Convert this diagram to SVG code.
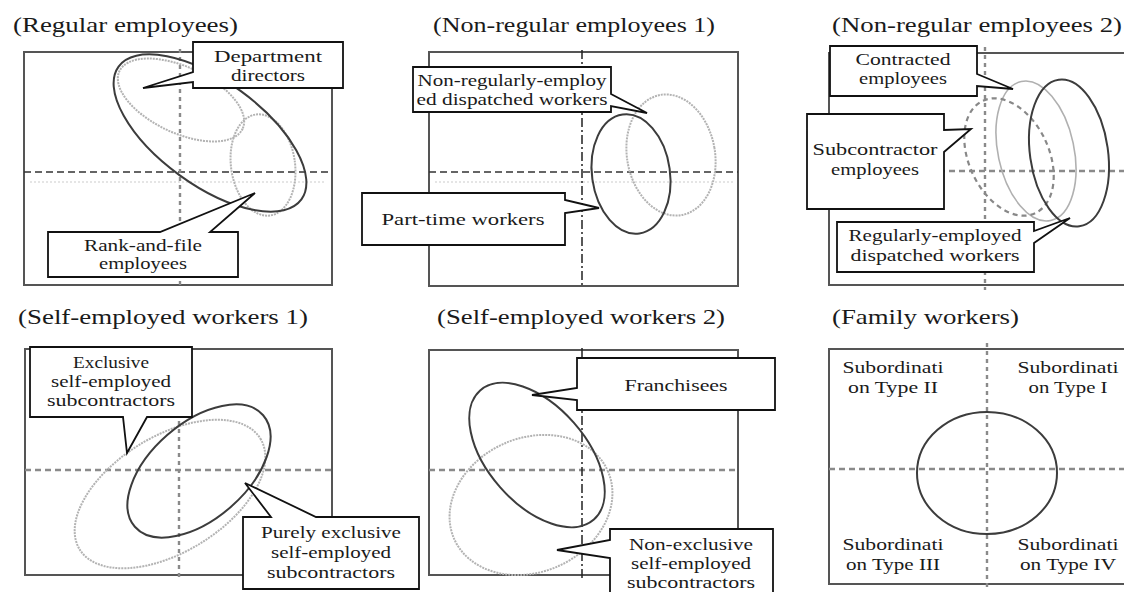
<svg xmlns="http://www.w3.org/2000/svg" width="1124" height="592" viewBox="0 0 1124 592" font-family="'Liberation Serif', 'DejaVu Serif', serif">
<style>
text{font-family:'Liberation Serif','DejaVu Serif',serif;fill:#1a1a1a}
.title{font-size:21px}
.lbl{font-size:17px;text-anchor:middle}
.frame{fill:none;stroke:#555;stroke-width:2}
.hdash{fill:none;stroke:#333;stroke-width:1.6;stroke-dasharray:7 4}
.gdash{fill:none;stroke:#8a8a8a;stroke-width:2.4;stroke-dasharray:6 4}
.vgdash{fill:none;stroke:#8a8a8a;stroke-width:2.4;stroke-dasharray:4 4}
.dashdot{fill:none;stroke:#222;stroke-width:1.5;stroke-dasharray:9 3 2 3}
.faint{fill:none;stroke:#ddd;stroke-width:1.5;stroke-dasharray:2 2}
.dark{fill:none;stroke:#3c3c3c;stroke-width:2}
.light{fill:none;stroke:#b3b3b3;stroke-width:2;stroke-dasharray:2 1}
.thin{fill:none;stroke:#b0b0b0;stroke-width:1.6}
.dashe{fill:none;stroke:#888;stroke-width:2.2;stroke-dasharray:5 4}
.call{fill:#fff;stroke:#111;stroke-width:1.8;stroke-linejoin:miter}
</style>

<!-- Panel 1: Regular employees -->
<g id="panel-regular">
  <text class="title" x="13" y="32" textLength="225" lengthAdjust="spacingAndGlyphs">(Regular employees)</text>
  <rect class="frame" x="24" y="52" width="308" height="233"/>
  <line class="faint" x1="30" y1="182" x2="325" y2="182"/>
  <line class="hdash" x1="24" y1="172" x2="332" y2="172"/>
  <line class="vgdash" x1="180" y1="49" x2="180" y2="289"/>
  <ellipse class="light" cx="181" cy="100" rx="68" ry="33" transform="rotate(25 181 100)"/>
  <ellipse class="light" cx="263" cy="165" rx="32" ry="51" transform="rotate(-8 263 165)"/>
  <ellipse class="dark" cx="210" cy="133" rx="113" ry="52" transform="rotate(36 210 133)"/>
</g>
<g id="callout-department-directors">
  <path class="call" d="M193,42 H343 V88 H193 V82 L143,88 L193,72 Z"/>
  <text class="lbl" x="268" y="62" textLength="108" lengthAdjust="spacingAndGlyphs">Department</text>
  <text class="lbl" x="268" y="81" textLength="74" lengthAdjust="spacingAndGlyphs">directors</text>
</g>
<g id="callout-rank-and-file">
  <path class="call" d="M48,232 H160 L255,193 L210,232 H238 V277 H48 Z"/>
  <text class="lbl" x="143" y="251" textLength="118" lengthAdjust="spacingAndGlyphs">Rank-and-file</text>
  <text class="lbl" x="143" y="269" textLength="88" lengthAdjust="spacingAndGlyphs">employees</text>
</g>

<!-- Panel 2: Non-regular employees 1 -->
<g id="panel-nonregular-1">
  <text class="title" x="433" y="32" textLength="282" lengthAdjust="spacingAndGlyphs">(Non-regular employees 1)</text>
  <rect class="frame" x="429" y="52" width="309" height="234"/>
  <line class="faint" x1="435" y1="182" x2="735" y2="182"/>
  <line class="hdash" x1="429" y1="172" x2="738" y2="172"/>
  <line class="dashdot" x1="582" y1="50" x2="582" y2="288"/>
  <ellipse class="light" cx="671" cy="155" rx="44" ry="61" transform="rotate(-10 671 155)"/>
  <ellipse class="dark" cx="631" cy="174" rx="39" ry="60" transform="rotate(-8 631 174)"/>
</g>
<g id="callout-nonregular-dispatched">
  <path class="call" d="M413,67 H611 V94 L647,113 L611,106 V112 H413 Z"/>
  <text class="lbl" x="512" y="86" textLength="189" lengthAdjust="spacingAndGlyphs">Non-regularly-employ</text>
  <text class="lbl" x="512" y="105" textLength="191" lengthAdjust="spacingAndGlyphs">ed dispatched workers</text>
</g>
<g id="callout-part-time">
  <path class="call" d="M362,193 H565 V200 L599,208 L565,213 V245 H362 Z"/>
  <text class="lbl" x="463" y="225" textLength="163" lengthAdjust="spacingAndGlyphs">Part-time workers</text>
</g>

<!-- Panel 3: Non-regular employees 2 -->
<g id="panel-nonregular-2">
  <text class="title" x="832" y="32" textLength="290" lengthAdjust="spacingAndGlyphs">(Non-regular employees 2)</text>
  <rect class="frame" x="829" y="53" width="310" height="232"/>
  <line class="gdash" x1="829" y1="171" x2="1124" y2="171"/>
  <line class="vgdash" x1="985" y1="47" x2="985" y2="290"/>
  <ellipse class="thin" cx="1036" cy="151" rx="38" ry="71" transform="rotate(-12 1036 151)"/>
  <ellipse class="dashe" cx="1009" cy="157" rx="40" ry="62" transform="rotate(-25 1009 157)"/>
  <ellipse class="dark" cx="1069" cy="153" rx="39" ry="74" transform="rotate(-8 1069 153)"/>
</g>
<g id="callout-contracted">
  <path class="call" d="M830,46 H977 V74 L1013,89 L977,86 V96 H830 Z"/>
  <text class="lbl" x="903" y="65" textLength="95" lengthAdjust="spacingAndGlyphs">Contracted</text>
  <text class="lbl" x="903" y="84" textLength="88" lengthAdjust="spacingAndGlyphs">employees</text>
</g>
<g id="callout-subcontractor">
  <path class="call" d="M807,114 H944 V130 L971,129 L944,152 V209 H807 Z"/>
  <text class="lbl" x="875" y="155" textLength="125" lengthAdjust="spacingAndGlyphs">Subcontractor</text>
  <text class="lbl" x="875" y="175" textLength="88" lengthAdjust="spacingAndGlyphs">employees</text>
</g>
<g id="callout-regular-dispatched">
  <path class="call" d="M837,222 H1034 V231 L1070,218 L1034,243 V272 H837 Z"/>
  <text class="lbl" x="935" y="241" textLength="173" lengthAdjust="spacingAndGlyphs">Regularly-employed</text>
  <text class="lbl" x="935" y="261" textLength="169" lengthAdjust="spacingAndGlyphs">dispatched workers</text>
</g>

<!-- Panel 4: Self-employed workers 1 -->
<g id="panel-self-1">
  <text class="title" x="18" y="324" textLength="290" lengthAdjust="spacingAndGlyphs">(Self-employed workers 1)</text>
  <rect class="frame" x="25" y="349" width="307" height="226"/>
  <line class="gdash" x1="25" y1="470" x2="332" y2="470"/>
  <line class="vgdash" x1="179" y1="349" x2="179" y2="578"/>
  <ellipse class="light" cx="170" cy="494" rx="106" ry="58" transform="rotate(-31.5 170 494)"/>
  <ellipse class="dark" cx="199" cy="471" rx="85" ry="48" transform="rotate(-41 199 471)"/>
</g>
<g id="callout-exclusive">
  <path class="call" d="M30,347 H192 V417 H147 L127,453 L123,417 H30 Z"/>
  <text class="lbl" x="111" y="368" textLength="76" lengthAdjust="spacingAndGlyphs">Exclusive</text>
  <text class="lbl" x="111" y="387" textLength="120" lengthAdjust="spacingAndGlyphs">self-employed</text>
  <text class="lbl" x="111" y="406" textLength="128" lengthAdjust="spacingAndGlyphs">subcontractors</text>
</g>
<g id="callout-purely-exclusive">
  <path class="call" d="M243,517 H271 L245,483 L316,517 H419 V589 H243 Z"/>
  <text class="lbl" x="331" y="538" textLength="140" lengthAdjust="spacingAndGlyphs">Purely exclusive</text>
  <text class="lbl" x="331" y="558" textLength="120" lengthAdjust="spacingAndGlyphs">self-employed</text>
  <text class="lbl" x="331" y="578" textLength="128" lengthAdjust="spacingAndGlyphs">subcontractors</text>
</g>

<!-- Panel 5: Self-employed workers 2 -->
<g id="panel-self-2">
  <text class="title" x="437" y="324" textLength="288" lengthAdjust="spacingAndGlyphs">(Self-employed workers 2)</text>
  <rect class="frame" x="429" y="350" width="309" height="225"/>
  <line class="gdash" x1="429" y1="470" x2="738" y2="470"/>
  <line class="dashdot" x1="582" y1="348" x2="582" y2="578"/>
  <ellipse class="light" cx="531" cy="505" rx="84" ry="67" transform="rotate(-24 531 505)"/>
  <ellipse class="dark" cx="537" cy="455" rx="86" ry="49" transform="rotate(48.6 537 455)"/>
</g>
<g id="callout-franchisees">
  <path class="call" d="M577,358 H775 V410 H577 V400 L532,395 L577,388 Z"/>
  <text class="lbl" x="676" y="391" textLength="103" lengthAdjust="spacingAndGlyphs">Franchisees</text>
</g>
<g id="callout-non-exclusive">
  <path class="call" d="M610,529 H773 V600 H610 V558 L557,550 L610,540 Z"/>
  <text class="lbl" x="691" y="550" textLength="124" lengthAdjust="spacingAndGlyphs">Non-exclusive</text>
  <text class="lbl" x="691" y="569" textLength="120" lengthAdjust="spacingAndGlyphs">self-employed</text>
  <text class="lbl" x="691" y="588" textLength="128" lengthAdjust="spacingAndGlyphs">subcontractors</text>
</g>

<!-- Panel 6: Family workers -->
<g id="panel-family">
  <text class="title" x="832" y="324" textLength="187" lengthAdjust="spacingAndGlyphs">(Family workers)</text>
  <rect class="frame" x="829" y="349" width="310" height="235"/>
  <line class="gdash" x1="829" y1="469" x2="1124" y2="469"/>
  <line class="vgdash" x1="987" y1="343" x2="987" y2="588"/>
  <ellipse class="dark" cx="987" cy="473" rx="70" ry="61"/>
  <text class="lbl" x="893" y="373" textLength="101" lengthAdjust="spacingAndGlyphs">Subordinati</text>
  <text class="lbl" x="893" y="393" textLength="90" lengthAdjust="spacingAndGlyphs">on Type II</text>
  <text class="lbl" x="1068" y="373" textLength="101" lengthAdjust="spacingAndGlyphs">Subordinati</text>
  <text class="lbl" x="1068" y="393" textLength="79" lengthAdjust="spacingAndGlyphs">on Type I</text>
  <text class="lbl" x="893" y="550" textLength="101" lengthAdjust="spacingAndGlyphs">Subordinati</text>
  <text class="lbl" x="893" y="570" textLength="94" lengthAdjust="spacingAndGlyphs">on Type III</text>
  <text class="lbl" x="1068" y="550" textLength="101" lengthAdjust="spacingAndGlyphs">Subordinati</text>
  <text class="lbl" x="1068" y="570" textLength="96" lengthAdjust="spacingAndGlyphs">on Type IV</text>
</g>
</svg>
